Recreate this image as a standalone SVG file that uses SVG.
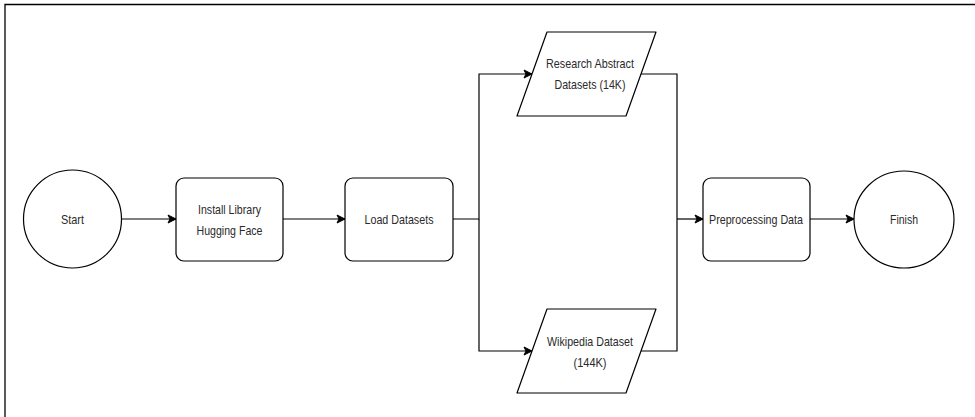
<svg xmlns="http://www.w3.org/2000/svg" width="975" height="417" viewBox="0 0 975 417">
<defs>
<style>
.shape{fill:#fff;stroke:#000;stroke-width:1.2}
.conn{fill:none;stroke:#000;stroke-width:1.2}
.lbl{font-family:"Liberation Sans",Arial,sans-serif;font-size:13.5px;fill:#2a2a2a;text-anchor:middle;dominant-baseline:central}
</style>
<marker id="arr" markerUnits="userSpaceOnUse" markerWidth="10" markerHeight="10" viewBox="0 0 10 10" refX="9" refY="5" orient="auto">
<path d="M1,1 L9,5 L1,9 L3,5 z" fill="#000" stroke="#000" stroke-width="1"/>
</marker>
</defs>
<rect width="975" height="417" fill="#fff"/>
<path d="M5,417 V4.5 H975" fill="none" stroke="#000" stroke-width="1.3"/>
<g id="connectors">
<line class="conn" x1="122" y1="219" x2="176" y2="219" marker-end="url(#arr)"/>
<line class="conn" x1="283" y1="219" x2="345" y2="219" marker-end="url(#arr)"/>
<path class="conn" d="M453,219 H479 V74 H532" marker-end="url(#arr)"/>
<path class="conn" d="M479,219 V351 H532" marker-end="url(#arr)"/>
<path class="conn" d="M641,74 H677 V351 H641"/>
<line class="conn" x1="677" y1="219" x2="703" y2="219" marker-end="url(#arr)"/>
<line class="conn" x1="810" y1="219" x2="854" y2="219" marker-end="url(#arr)"/>
</g>
<g id="start">
<ellipse class="shape" cx="72.5" cy="219" rx="49" ry="49"/>
<text class="lbl" x="72.5" y="219" textLength="23" lengthAdjust="spacingAndGlyphs">Start</text>
</g>
<g id="install">
<rect class="shape" x="176" y="178" width="107" height="83" rx="8"/>
<text class="lbl" x="229.5" y="209" textLength="63" lengthAdjust="spacingAndGlyphs">Install Library</text>
<text class="lbl" x="229.5" y="230" textLength="66" lengthAdjust="spacingAndGlyphs">Hugging Face</text>
</g>
<g id="load">
<rect class="shape" x="345" y="178" width="108" height="83" rx="8"/>
<text class="lbl" x="399" y="219" textLength="69" lengthAdjust="spacingAndGlyphs">Load Datasets</text>
</g>
<g id="research">
<path class="shape" d="M547,32 H656 L626,116 H517 Z" stroke-linejoin="round"/>
<text class="lbl" x="590" y="63" textLength="88" lengthAdjust="spacingAndGlyphs">Research Abstract</text>
<text class="lbl" x="590" y="84" textLength="71" lengthAdjust="spacingAndGlyphs">Datasets (14K)</text>
</g>
<g id="wikipedia">
<path class="shape" d="M547,309 H656 L626,393 H517 Z" stroke-linejoin="round"/>
<text class="lbl" x="590" y="341" textLength="86" lengthAdjust="spacingAndGlyphs">Wikipedia Dataset</text>
<text class="lbl" x="590" y="362" textLength="33" lengthAdjust="spacingAndGlyphs">(144K)</text>
</g>
<g id="preprocessing">
<rect class="shape" x="703" y="178" width="107" height="83" rx="8"/>
<text class="lbl" x="756" y="219" textLength="94" lengthAdjust="spacingAndGlyphs">Preprocessing Data</text>
</g>
<g id="finish">
<ellipse class="shape" cx="904" cy="219.5" rx="50" ry="48.5"/>
<text class="lbl" x="904" y="219" textLength="28" lengthAdjust="spacingAndGlyphs">Finish</text>
</g>
</svg>
